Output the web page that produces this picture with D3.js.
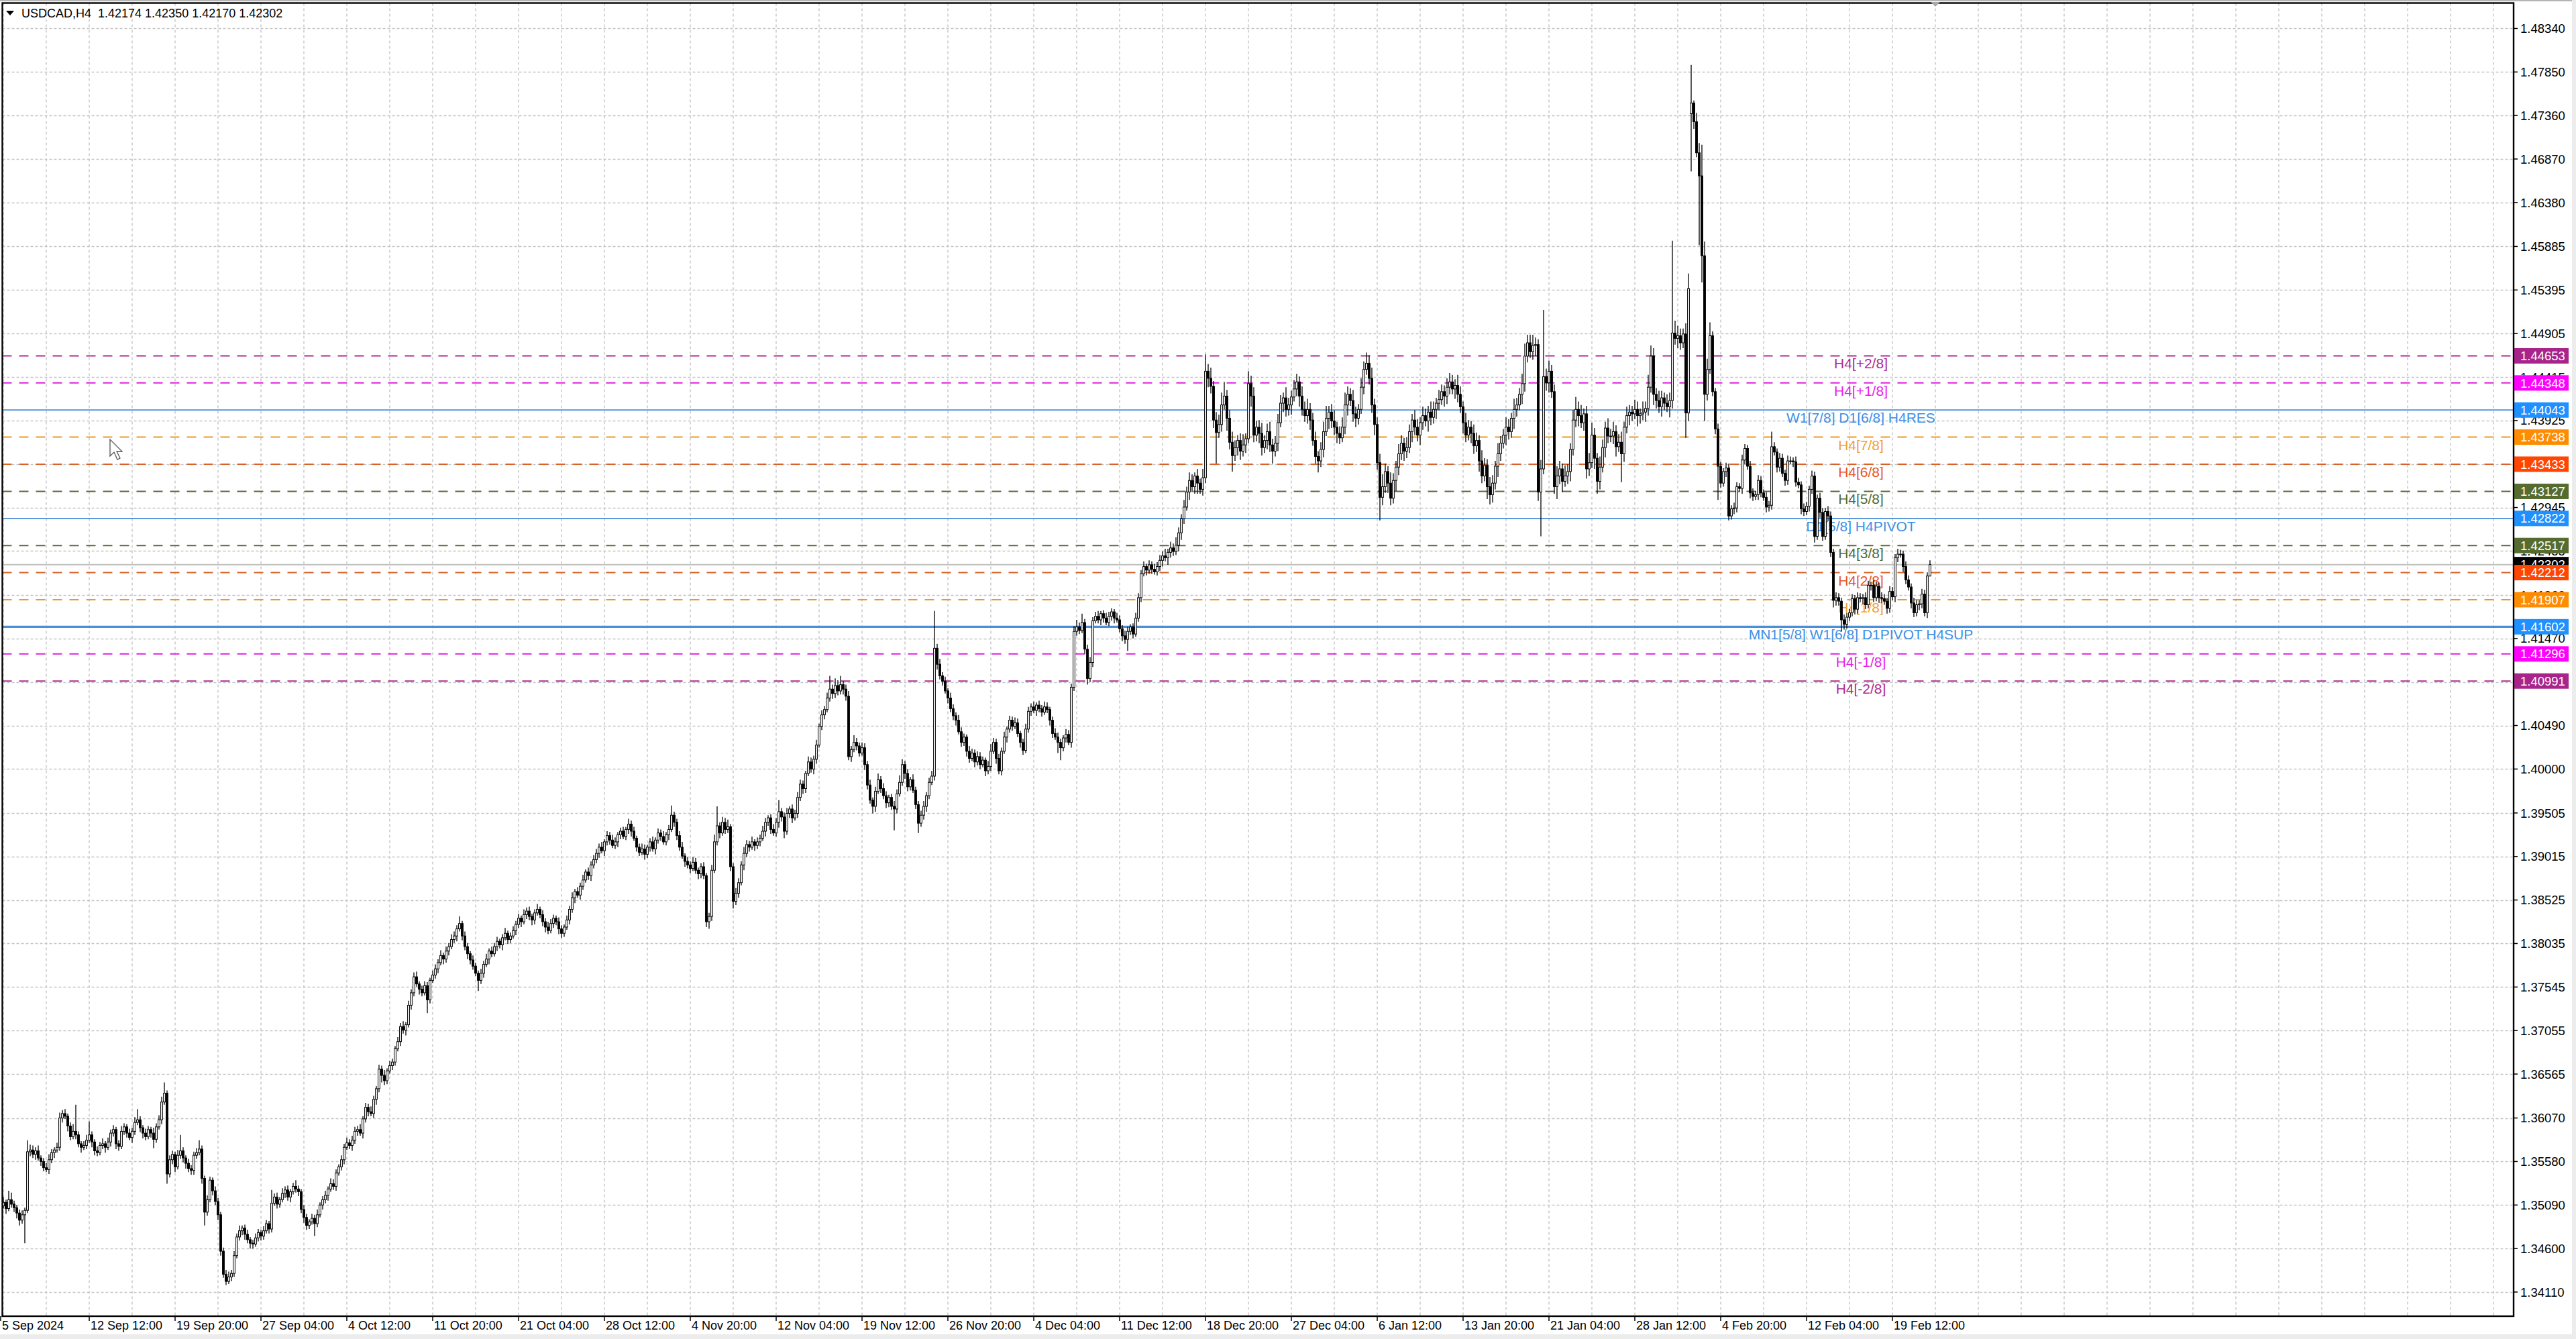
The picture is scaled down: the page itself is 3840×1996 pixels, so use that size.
<!DOCTYPE html>
<html>
<head>
<meta charset="utf-8">
<script src="https://cdn.jsdelivr.net/npm/d3@7"></script>
<style>
	body { margin: 0; background: #fff; }
	svg { display: block; }
	text { font-family: "Liberation Sans", Arial, sans-serif; }
</style>
</head>
<body>
<div id="chart"></div>
<script>
// USDCAD H4 closes, one row per trading week
const closes = [
	1.3508,1.3512,1.3505,1.3515,1.3510,1.3506,1.3500,1.3492,1.3498,1.3503, 1.3569,1.3571,
	1.3566,1.3570,1.3562,1.3558,1.3551,1.3549,1.3560,1.3568,1.3571,1.3574, 1.3607,1.3612,1.3609,1.3598,1.3586,1.3592,1.3588,1.3578,1.3574,1.3576, 1.3582,1.3588,1.3580,1.3570,1.3568,1.3576,1.3578,1.3574,1.3580,1.3590,
	1.3594,1.3578,1.3575,1.3592,1.3597,1.3590,1.3585,1.3592,1.3602,1.3605, 1.3596,1.3590,1.3586,1.3594,1.3590,1.3583,1.3597,1.3605,1.3625,1.3635, 1.3544,1.3560,1.3566,1.3552,1.3565,1.3570,1.3562,1.3556,1.3550,1.3548,
	1.3565,1.3568,1.3572,1.3539,1.3501,1.3515,1.3537,1.3525,1.3513,1.3498, 1.3457,1.3431,1.3423,1.3428,1.3432,1.3452,1.3473,1.3480,1.3483,1.3476, 1.3470,1.3466,1.3465,1.3472,1.3478,1.3474,1.3480,1.3488,1.3482,1.3511,
	1.3518,1.3510,1.3515,1.3522,1.3526,1.3518,1.3524,1.3530,1.3527,1.3524, 1.3504,1.3495,1.3486,1.3490,1.3494,1.3488,1.3498,1.3509,1.3515,1.3520, 1.3527,1.3533,1.3530,1.3545,1.3552,1.3560,1.3574,1.3579,1.3576,1.3582,
	1.3592,1.3594,1.3590,1.3606,1.3619,1.3614,1.3612,1.3628,1.3640,1.3662, 1.3655,1.3649,1.3660,1.3666,1.3670,1.3685,1.3693,1.3710,1.3706,1.3712, 1.3734,1.3748,1.3766,1.3758,1.3752,1.3748,1.3756,1.3740,1.3762,1.3768,
	1.3775,1.3782,1.3790,1.3786,1.3795,1.3800,1.3808,1.3812,1.3820,1.3826, 1.3812,1.3800,1.3792,1.3785,1.3778,1.3770,1.3762,1.3770,1.3780,1.3786, 1.3795,1.3792,1.3800,1.3806,1.3802,1.3810,1.3815,1.3808,1.3812,1.3818,
	1.3825,1.3832,1.3828,1.3836,1.3840,1.3834,1.3830,1.3838,1.3842,1.3836, 1.3828,1.3822,1.3818,1.3826,1.3832,1.3828,1.3820,1.3815,1.3822,1.3830, 1.3842,1.3855,1.3862,1.3858,1.3868,1.3875,1.3884,1.3880,1.3892,1.3898,
	1.3905,1.3912,1.3908,1.3918,1.3925,1.3920,1.3914,1.3918,1.3926,1.3930, 1.3924,1.3932,1.3938,1.3930,1.3922,1.3912,1.3906,1.3910,1.3904,1.3912, 1.3918,1.3910,1.3920,1.3928,1.3924,1.3918,1.3926,1.3932,1.3948,1.3940,
	1.3925,1.3912,1.3902,1.3896,1.3892,1.3888,1.3895,1.3886,1.3882,1.3890, 1.3880,1.3828,1.3834,1.3886,1.3918,1.3936,1.3928,1.3940,1.3932,1.3935, 1.3890,1.3851,1.3860,1.3872,1.3892,1.3905,1.3915,1.3912,1.3918,1.3914,
	1.3918,1.3922,1.3930,1.3940,1.3945,1.3932,1.3928,1.3940,1.3952,1.3946, 1.3930,1.3950,1.3955,1.3945,1.3950,1.3968,1.3983,1.3978,1.3995,1.4008, 1.4000,1.4011,1.4027,1.4048,1.4061,1.4067,1.4080,1.4090,1.4085,1.4094,
	1.4088,1.4095,1.4090,1.4082,1.4014,1.4022,1.4030,1.4026,1.4018,1.4024, 1.4005,1.3982,1.3965,1.3958,1.3975,1.3988,1.3978,1.3970,1.3962,1.3968, 1.3958,1.3955,1.3972,1.3985,1.4005,1.3995,1.3980,1.3988,1.3976,1.3960,
	1.3939,1.3948,1.3958,1.3970,1.3985,1.3992,1.4136,1.4118,1.4105,1.4099, 1.4088,1.4080,1.4068,1.4060,1.4055,1.4042,1.4030,1.4036,1.4020,1.4012, 1.4018,1.4008,1.4014,1.4005,1.4010,1.3998,1.4003,1.4020,1.4030,1.4012,
	1.3998,1.4020,1.4036,1.4045,1.4055,1.4048,1.4052,1.4040,1.4030,1.4021, 1.4045,1.4065,1.4070,1.4066,1.4072,1.4068,1.4064,1.4070,1.4067,1.4055, 1.4040,1.4036,1.4030,1.4024,1.4035,1.4039,1.4030,1.4092,1.4155,1.4160,
	1.4156,1.4165,1.4135,1.4102,1.4120,1.4167,1.4172,1.4168,1.4175,1.4170, 1.4165,1.4172,1.4177,1.4170,1.4168,1.4158,1.4150,1.4146,1.4155,1.4160, 1.4152,1.4170,1.4193,1.4220,1.4228,1.4224,1.4230,1.4225,1.4222,1.4228,
	1.4235,1.4240,1.4238,1.4244,1.4249,1.4245,1.4252,1.4266,1.4282,1.4295, 1.4312,1.4325,1.4318,1.4330,1.4322,1.4315,1.4328,1.4448,1.4440,1.4431, 1.4393,1.4379,1.4388,1.4410,1.4420,1.4395,1.4368,1.4353,1.4362,1.4370,
	1.4358,1.4365,1.4372,1.4434,1.4420,1.4376,1.4385,1.4378,1.4362,1.4370, 1.4380,1.4365,1.4358,1.4367,1.4390,1.4412,1.4418,1.4405,1.4410,1.4419, 1.4428,1.4436,1.4420,1.4405,
	1.4398,1.4405,1.4393,1.4370,1.4352,1.4347,1.4360,1.4380,1.4395,1.4402, 1.4392,1.4385,1.4378,1.4373,1.4385,1.4410,1.4422,1.4415,1.4400,1.4395, 1.4405,1.4430,1.4450,1.4457,
	1.4440,1.4410,1.4388,1.4345,1.4306,1.4318,1.4335,1.4322,1.4305,1.4325, 1.4340,1.4355,1.4367,1.4358,1.4362,1.4380,1.4393,1.4385,1.4376,1.4390, 1.4398,1.4392,1.4402,1.4396,1.4405,1.4412,1.4416,1.4425,1.4420,1.4430,
	1.4436,1.4428,1.4432,1.4422,1.4408,1.4390,1.4376,1.4385,1.4378,1.4364, 1.4370,1.4347,1.4330,1.4342,1.4318,1.4309,1.4322,1.4341,1.4355,1.4367, 1.4376,1.4385,1.4380,1.4395,1.4405,1.4410,1.4422,1.4434,1.4465,1.4480,
	1.4470,1.4477,1.4478,1.4312,1.4338,1.4442,1.4435,1.4448,1.4425,1.4318, 1.4330,1.4338,1.4324,1.4330,1.4335,1.4360,1.4393,1.4405,1.4398,1.4390, 1.4400,1.4338,1.4345,1.4376,1.4350,1.4324,1.4340,1.4362,1.4384,1.4375,
	1.4375,1.4380,1.4363,1.4368,1.4355,1.4385,1.4398,1.4402,1.4400,1.4405, 1.4398,1.4400,1.4402,1.4406,1.4430,1.4465,1.4422,1.4415,1.4408,1.4418, 1.4412,1.4408,1.4415,1.4491,1.4485,1.4488,1.4480,1.4490,1.4401,1.4541,
	1.4750,1.4729,1.4694,1.4668,1.4578,1.4422,1.4450,1.4488,1.4425,1.4383, 1.4341,1.4322,1.4335,1.4339,1.4285,1.4293,1.4294,1.4318,1.4316,1.4348, 1.4361,1.4341,1.4311,1.4307,1.4309,1.4325,1.4311,1.4306,1.4295,1.4297,
	1.4363,1.4357,1.4340,1.4350,1.4333,1.4325,1.4347,1.4347,1.4346,1.4323, 1.4320,1.4293,1.4290,1.4296,1.4315,1.4330,1.4262,1.4305,1.4289,1.4262, 1.4290,1.4285,1.4244,1.4190,1.4193,1.4189,1.4168,1.4163,1.4171,1.4176,
	1.4192,1.4180,1.4193,1.4192,1.4193,1.4185,1.4207,1.4207,1.4193,1.4206, 1.4193,1.4192,1.4189,1.4181,1.4200,1.4194,1.4238,1.4242,1.4242,1.4228, 1.4213,1.4205,1.4187,1.4176,1.4185,1.4186,1.4197,1.4176,1.42174,1.42302
];

// wick lengths in pips, above the body and below it
const upWicks = [
	4,6,3,10,8,4,3,4,5,3, 13,6,
	5,4,6,3,4,5,6,4,3,5, 6,4,5,3,4,8,30,4,3,5, 6,15,4,3,5,4,6,3,5,4,
	5,3,4,6,4,3,5,4,6,12, 4,3,5,4,3,6,4,5,6,12, 3,5,4,3,6,18,4,3,5,4,
	4,5,10,4,3,5,4,3,5,4, 3,4,5,6,4,5,4,6,3,4, 5,3,4,5,4,3,5,4,3,15,
	4,5,3,6,4,5,3,4,7,4, 3,5,4,3,5,4,6,3,4,5, 3,6,5,4,3,5,4,6,4,5,
	5,4,6,3,5,4,6,4,3,5, 4,6,3,5,4,3,5,4,6,3, 5,4,5,6,3,4,5,4,3,5,
	5,4,6,3,5,4,6,5,4,8, 3,5,4,3,5,4,3,5,4,6, 3,5,4,5,3,4,6,3,4,5,
	4,5,3,6,4,5,3,4,6,3, 5,4,6,5,4,3,5,4,3,5, 4,6,3,5,4,6,3,5,4,5,
	5,4,6,3,5,4,6,5,3,4, 5,3,6,4,5,3,4,6,5,3, 4,6,3,5,4,6,3,5,11,4,
	4,5,6,3,5,4,6,5,3,4, 5,3,4,6,8,22,4,6,5,8, 3,4,6,5,4,7,5,4,6,3,
	5,4,6,5,3,4,6,5,13,4, 5,6,3,5,4,6,5,4,3,6, 5,4,6,3,5,4,6,15,5,8,
	6,10,4,5,6,4,8,5,4,6, 5,4,6,3,5,7,4,6,5,3, 4,6,5,8,6,4,5,3,6,4,
	4,5,6,4,5,6,42,5,6,4, 5,3,6,5,4,6,5,4,3,6, 5,4,6,5,4,3,6,8,5,4,
	5,4,6,3,5,4,6,5,3,4, 6,5,4,6,3,5,4,6,5,3, 4,6,5,4,3,6,5,4,6,8,
	5,10,4,5,6,4,5,6,3,4, 6,5,4,3,6,5,4,6,5,3, 4,6,5,4,6,3,5,4,6,5,
	6,5,8,4,7,5,9,6,5,8, 6,9,7,4,8,5,10,19,8,12, 6,9,11,14,16,7,9,12,8,6,
	8,12,6,14,9,10,7,8,12,6, 9,11,7,8,10,9,6,12,8,7, 10,9,6,11,
	9,12,7,8,10,6,8,11,14,7, 9,12,6,8,11,14,9,7,12,8, 6,10,9,12,
	9,12,7,8,10,14,9,6,12,8, 7,11,9,6,12,8,7,11,9,6, 10,8,7,12,9,6,11,8,7,10,
	10,8,7,12,9,6,11,8,7,10, 9,6,12,8,7,11,9,6,12,8, 7,11,9,6,12,8,7,11,14,9,
	9,12,8,6,10,75,9,12,7,8, 11,9,6,12,8,7,11,14,9,12, 6,9,11,14,8,6,12,9,7,11,
	8,11,7,9,12,6,10,8,7,11, 9,6,12,8,14,12,9,7,11,8, 6,10,9,104,14,11,8,6,12,17,
	43,3,10,11,35,16,12,15,5,4, 6,5,4,6,5,4,6,5,4,6, 5,4,6,5,4,6,5,4,6,5,
	17,5,4,6,5,4,6,5,4,6, 5,4,6,5,4,6,5,4,6,5, 4,6,5,4,6,5,4,6,5,4,
	5,4,6,5,4,6,5,4,6,5, 4,6,5,4,6,5,4,6,5,4, 6,5,4,6,5,4,6,5,4,4.8
];
const downWicks = [
	5,3,6,3,4,5,6,6,4,32, 3,5,
	4,6,3,5,4,3,5,4,6,3, 4,5,3,6,4,3,5,4,6,3, 4,3,6,5,4,3,4,6,3,5,
	4,6,5,3,4,5,3,6,4,3, 5,6,4,3,5,10,4,3,5,3, 11,4,5,6,3,4,5,6,4,5,
	5,4,3,6,15,4,3,5,4,6, 5,4,4,3,5,4,3,4,5,6, 4,6,5,3,4,5,4,3,5,4,
	3,5,4,3,5,4,6,3,4,5, 4,6,5,4,3,14,4,3,5,4, 6,3,4,5,3,4,5,3,4,6,
	4,5,3,6,4,5,3,5,6,4, 8,5,4,3,5,4,3,5,4,6, 3,5,4,3,6,4,3,15,4,3,
	4,5,3,6,4,5,3,4,6,3, 5,4,6,5,4,3,12,4,5,3, 6,4,3,5,4,6,3,5,4,3,
	5,4,6,3,5,4,6,5,3,4, 5,6,4,3,5,4,6,5,4,3, 5,4,6,3,5,4,3,5,6,4,
	4,5,3,6,4,5,3,4,6,5, 3,4,5,6,3,5,4,3,6,4, 5,3,6,4,5,3,4,6,3,5,
	5,4,3,6,4,5,3,4,6,5, 4,6,8,5,3,4,6,3,5,4, 5,8,4,5,3,6,4,5,3,6,
	4,5,3,6,4,5,3,4,6,5, 8,4,5,6,3,5,4,6,5,3, 4,6,5,3,4,5,3,4,6,5,
	5,4,6,5,4,6,3,5,4,3, 6,5,4,8,6,3,5,4,6,5, 4,24,5,3,4,6,5,4,3,5,
	11,4,5,6,4,3,5,6,4,5, 3,6,4,5,6,3,5,4,6,5, 3,6,4,5,3,6,4,5,3,6,
	4,5,3,6,4,5,3,4,6,5, 3,4,5,3,6,4,5,3,4,6, 5,3,12,14,4,5,3,6,4,5,
	4,3,5,7,4,5,3,4,6,5, 3,4,5,6,3,4,6,5,13,4, 5,3,4,5,3,6,4,5,3,4,
	5,7,4,8,6,5,4,7,8,6, 4,9,6,8,12,5,7,6,10,8, 9,35,6,8,5,14,8,18,6,9,
	10,6,9,5,12,8,7,11,9,6, 10,8,14,6,9,5,10,8,7,11, 5,8,12,7,
	7,9,11,6,8,13,7,9,5,12, 8,9,11,7,5,8,12,6,9,10, 7,5,8,6,
	7,9,12,8,26,9,7,11,8,6, 12,9,7,11,8,6,12,9,7,11, 8,6,12,9,7,11,8,6,12,9,
	8,6,11,9,7,12,8,6,11,9, 7,12,8,6,14,11,9,7,12,8, 6,11,9,7,12,8,6,11,9,7,
	7,9,12,10,50,6,9,11,7,8, 14,9,12,6,9,11,7,8,12,6, 9,11,8,6,12,14,9,6,11,8,
	7,9,11,6,32,9,7,11,8,6, 12,9,7,11,8,6,12,9,7,11, 8,6,12,9,7,11,8,6,28,9,
	65,8,5,78,30,30,7,5,5,6, 38,5,4,6,5,4,6,5,4,6, 5,4,6,5,4,6,5,4,6,5,
	5,4,6,5,4,6,5,4,6,5, 4,6,5,4,6,5,7,4,6,5, 4,6,5,8,6,5,13,6,5,4,
	4,6,5,4,6,5,4,6,5,4, 6,5,4,6,5,4,6,5,4,6, 5,4,6,5,4,6,5,4,6,0.4
];

// bars whose open is not the previous close (first bar, weekend gap)
const gapBars = [0, 630];
const gapOpens = [1.3504, 1.4738];

const priceTicks = ["1.48340","1.47850","1.47360","1.46870","1.46380","1.45885","1.45395","1.44905",
	"1.44415","1.43925","1.43435","1.42945","1.42455","1.41960","1.41470","1.40980","1.40490","1.40000",
	"1.39505","1.39015","1.38525","1.38035","1.37545","1.37055","1.36565","1.36070","1.35580","1.35090",
	"1.34600","1.34110"];

const timeLabels = ["5 Sep 2024","12 Sep 12:00","19 Sep 20:00","27 Sep 04:00","4 Oct 12:00","11 Oct 20:00",
	"21 Oct 04:00","28 Oct 12:00","4 Nov 20:00","12 Nov 04:00","19 Nov 12:00","26 Nov 20:00","4 Dec 04:00",
	"11 Dec 12:00","18 Dec 20:00","27 Dec 04:00","6 Jan 12:00","13 Jan 20:00","21 Jan 04:00","28 Jan 12:00",
	"4 Feb 20:00","12 Feb 04:00","19 Feb 12:00"];

// Murrey-style levels drawn by the indicator
const levelPrices = [1.44653, 1.44348, 1.44043, 1.43738, 1.43433, 1.43127, 1.42822, 1.42517, 1.42212, 1.41907, 1.41602, 1.41296, 1.40991];
const levelNames = ["H4[+2/8]", "H4[+1/8]", "W1[7/8] D1[6/8] H4RES", "H4[7/8]", "H4[6/8]", "H4[5/8]",
	"D1[5/8] H4PIVOT", "H4[3/8]", "H4[2/8]", "H4[1/8]", "MN1[5/8] W1[6/8] D1PIVOT H4SUP", "H4[-1/8]", "H4[-2/8]"];
const levelKinds = ["p2", "p1", "blue", "orange", "red", "green", "blue", "green", "red", "orange", "blueBold", "p1", "p2"];

const symbol = "USDCAD,H4";
const holidays = ["2024-12-25", "2025-01-01"];

// styles for each kind of level
const levelStyle = {
	p2: { line: "#ad2d90", text: "#b02a8e", box: "#a8248a", dash: "14,11", w: 2 },
	p1: { line: "#e020e0", text: "#e81ee8", box: "#ff00ff", dash: "14,11", w: 2 },
	blue: { line: "#4a8fd8", text: "#3d8fe6", box: "#1e90ff", dash: null, w: 1.8 },
	blueBold: { line: "#4a8fd8", text: "#3d8fe6", box: "#1e90ff", dash: null, w: 3.2 },
	orange: { line: "#e99a2c", text: "#f2a030", box: "#ff8c00", dash: "14,11", w: 2 },
	red: { line: "#d6642a", text: "#e8561e", box: "#ff4500", dash: "14,11", w: 2 },
	green: { line: "#5b6b3c", text: "#556b2f", box: "#556b2f", dash: "14,11", w: 2 }
};

const W = 3840, H = 1996;
const plot = { left: 3.5, top: 4.5, right: 3747, bottom: 1962 };

const svg = d3.select("#chart")
	.append("svg")
	.attr("width", W)
	.attr("height", H);

svg.append("rect").attr("width", W).attr("height", H).attr("fill", "#fff");
svg.append("rect").attr("x", 0).attr("y", 0).attr("width", W).attr("height", 2).attr("fill", "#b4b4b4");
svg.append("rect").attr("x", 0).attr("y", 1989).attr("width", W).attr("height", 7).attr("fill", "#ececec");
svg.append("rect").attr("x", 3834).attr("y", 0).attr("width", 6).attr("height", H).attr("fill", "#ececec");

// build the bars
const pip = 0.0001;
const bars = closes.map((c, i) => {
	const g = gapBars.indexOf(i);
	const o = g >= 0 ? gapOpens[g] : closes[i - 1];
	return {
		i: i,
		o: o,
		c: c,
		h: Math.max(o, c) + upWicks[i] * pip,
		l: Math.min(o, c) - downWicks[i] * pip
	};
});

// bar times: H4, no weekends, no holidays
const times = [];
let t = Date.UTC(2024, 8, 5, 0);
while (times.length < bars.length) {
	const d = new Date(t);
	const wd = d.getUTCDay();
	if (wd !== 0 && wd !== 6 && !holidays.includes(d.toISOString().slice(0, 10))) times.push(d);
	t += 4 * 3600 * 1000;
}

// scales: 4px per bar, chart shift on the right
const x = d3.scaleLinear().domain([0, 936.5]).range([1, plot.right]);
const y = d3.scaleLinear().domain([1.33838, 1.48638]).range([plot.bottom, 3]);

svg.append("clipPath").attr("id", "clip")
	.append("rect")
	.attr("x", plot.left).attr("y", plot.top)
	.attr("width", plot.right - plot.left).attr("height", plot.bottom - plot.top);

const g = svg.append("g").attr("clip-path", "url(#clip)");

// grid
g.selectAll("hgrid")
	.data(priceTicks)
	.enter()
	.append("line")
	.attr("x1", plot.left).attr("x2", plot.right)
	.attr("y1", (d) => Math.round(y(+d)) + 0.5).attr("y2", (d) => Math.round(y(+d)) + 0.5)
	.attr("stroke", "#c4c4c4")
	.attr("stroke-width", 1.4)
	.attr("stroke-dasharray", "4,3");

g.selectAll("vgrid")
	.data(d3.range(1, 937, 16))
	.enter()
	.append("line")
	.attr("x1", (d) => x(d)).attr("x2", (d) => x(d))
	.attr("y1", plot.top).attr("y2", plot.bottom)
	.attr("stroke", "#c4c4c4")
	.attr("stroke-width", 1.4)
	.attr("stroke-dasharray", "4,4");

// levels
const levels = levelPrices.map((p, k) => ({ p: p, name: levelNames[k], s: levelStyle[levelKinds[k]] }));
const lastBar = bars[bars.length - 1];

g.append("line")
	.attr("x1", plot.left).attr("x2", plot.right)
	.attr("y1", y(lastBar.c)).attr("y2", y(lastBar.c))
	.attr("stroke", "#c0c0c0")
	.attr("stroke-width", 2);

g.selectAll("levelLines")
	.data(levels)
	.enter()
	.append("line")
	.attr("x1", plot.left).attr("x2", plot.right)
	.attr("y1", (d) => y(d.p)).attr("y2", (d) => y(d.p))
	.attr("stroke", (d) => d.s.line)
	.attr("stroke-width", (d) => d.s.w)
	.attr("stroke-dasharray", (d) => d.s.dash);

g.selectAll("levelText")
	.data(levels)
	.enter()
	.append("text")
	.attr("x", 2774)
	.attr("y", (d) => y(d.p) + 19)
	.attr("text-anchor", "middle")
	.attr("font-size", 21)
	.attr("fill", (d) => d.s.text)
	.text((d) => d.name);

// candles: wicks first, then bodies
g.selectAll("wicks")
	.data(bars)
	.enter()
	.append("line")
	.attr("x1", (d) => x(d.i)).attr("x2", (d) => x(d.i))
	.attr("y1", (d) => y(d.h)).attr("y2", (d) => y(d.l))
	.attr("stroke", "#000")
	.attr("stroke-width", 1.3);

g.selectAll("bodies")
	.data(bars)
	.enter()
	.append("rect")
	.attr("x", (d) => x(d.i) - 1.4)
	.attr("width", 2.8)
	.attr("y", (d) => y(Math.max(d.o, d.c)))
	.attr("height", (d) => Math.max(1, y(Math.min(d.o, d.c)) - y(Math.max(d.o, d.c))))
	.attr("fill", (d) => (d.c >= d.o ? "#fff" : "#000"))
	.attr("stroke", "#000")
	.attr("stroke-width", 1);

// frame
svg.append("rect")
	.attr("x", plot.left).attr("y", plot.top)
	.attr("width", plot.right - plot.left).attr("height", plot.bottom - plot.top)
	.attr("fill", "none")
	.attr("stroke", "#000")
	.attr("stroke-width", 2.4);

// price axis
svg.selectAll("ptick")
	.data(priceTicks)
	.enter()
	.append("line")
	.attr("x1", plot.right).attr("x2", plot.right + 6)
	.attr("y1", (d) => y(+d)).attr("y2", (d) => y(+d))
	.attr("stroke", "#000")
	.attr("stroke-width", 1.5);

svg.selectAll("plabel")
	.data(priceTicks)
	.enter()
	.append("text")
	.attr("x", 3757)
	.attr("y", (d) => y(+d))
	.attr("dy", "0.36em")
	.attr("font-size", 18.5)
	.attr("fill", "#000")
	.text((d) => d);

// price boxes: current price first, levels over it
const fmt5 = d3.format(".5f");
const boxes = [{ p: lastBar.c, box: "#000" }].concat(levels.map((d) => ({ p: d.p, box: d.s.box })));

svg.selectAll("pbox")
	.data(boxes)
	.enter()
	.append("g")
	.each(function (d) {
		const b = d3.select(this);
		b.append("rect")
			.attr("x", plot.right + 1)
			.attr("y", y(d.p) - 11.5)
			.attr("width", 81)
			.attr("height", 23)
			.attr("fill", d.box);
		b.append("text")
			.attr("x", 3757)
			.attr("y", y(d.p))
			.attr("dy", "0.36em")
			.attr("font-size", 18.5)
			.attr("fill", "#fff")
			.text(fmt5(d.p));
	});

// time axis
const fmtTime = d3.utcFormat("%-d %b %H:%M");
const fmtDay = d3.utcFormat("%-d %b %Y");
const timeTicks = timeLabels.map((lab) => ({
	lab: lab,
	i: times.findIndex((d) => fmtTime(d) === lab || (d.getUTCHours() === 0 && fmtDay(d) === lab))
})).filter((d) => d.i >= 0);

svg.selectAll("ttick")
	.data(timeTicks)
	.enter()
	.append("line")
	.attr("x1", (d) => x(d.i)).attr("x2", (d) => x(d.i))
	.attr("y1", plot.bottom).attr("y2", plot.bottom + 7)
	.attr("stroke", "#000")
	.attr("stroke-width", 1.5);

svg.selectAll("tlabel")
	.data(timeTicks)
	.enter()
	.append("text")
	.attr("x", (d) => x(d.i) + 2)
	.attr("y", 1982)
	.attr("font-size", 18)
	.attr("fill", "#000")
	.text((d) => d.lab);

// title
svg.append("path")
	.attr("d", "M9,16 L21,16 L15,23 Z")
	.attr("fill", "#000");
svg.append("text")
	.attr("x", 32)
	.attr("y", 26)
	.attr("font-size", 18)
	.attr("fill", "#000")
	.style("white-space", "pre")
	.text(symbol + "  " + [lastBar.o, lastBar.h, lastBar.l, lastBar.c].map(fmt5).join(" "));

// chart shift marker and mouse cursor
svg.append("path")
	.attr("d", "M2878,3 L2892,3 L2885,10 Z")
	.attr("fill", "#a8a8a8");
svg.append("path")
	.attr("d", "M164,655 L164,680 L170,674 L175,685 L179,683 L174,673 L182,673 Z")
	.attr("fill", "#fff")
	.attr("stroke", "#555")
	.attr("stroke-width", 1.3);
</script>
</body>
</html>
